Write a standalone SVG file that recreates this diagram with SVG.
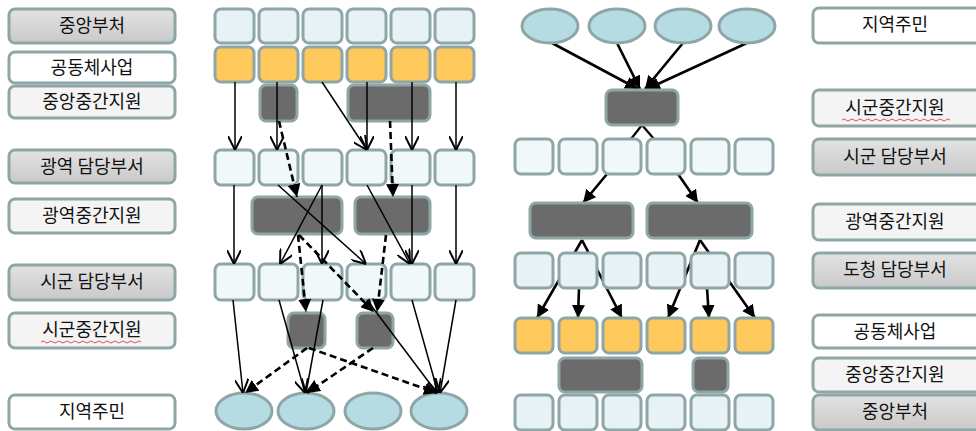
<svg xmlns="http://www.w3.org/2000/svg" width="976" height="431" viewBox="0 0 976 431">
<defs>
<linearGradient id="gGray" x1="0" y1="0" x2="0" y2="1"><stop offset="0" stop-color="#e3e3e3"/><stop offset="1" stop-color="#c9c9c9"/></linearGradient>
<marker id="vOpen" viewBox="0 0 10 10" refX="10" refY="5" markerWidth="14" markerHeight="14" markerUnits="userSpaceOnUse" orient="auto"><path d="M0,0 L10,5 L0,10" fill="none" stroke="#000" stroke-width="1.4"/></marker>
<marker id="vFill" viewBox="0 0 10 10" refX="10" refY="5" markerWidth="13" markerHeight="13" markerUnits="userSpaceOnUse" orient="auto"><path d="M0,0 L10,5 L0,10 z" fill="#000"/></marker>
</defs>
<style>
.lbl rect{stroke:#8ea6a6;stroke-width:3}
.g rect{fill:url(#gGray)}
.l rect{fill:#f4f4f4}
.w rect{fill:#ffffff}
.lbl text{font-family:"Noto Sans CJK KR","Noto Sans",sans-serif;font-size:18px;text-anchor:middle;fill:#111}
.bx{stroke:#8ea6a6;stroke-width:3}
.lb{fill:#e6f2f5}
.vl{fill:#f1f8fa}
.or{fill:#ffc95c}
.dk{fill:#6b6b6b}
.el{fill:#b5dce2;stroke:#8ea6a6;stroke-width:3}
.thin{stroke:#000;stroke-width:1.5;fill:none;marker-end:url(#vOpen)}
.dash{stroke:#000;stroke-width:2.6;fill:none;stroke-dasharray:7 4;marker-end:url(#vFill)}
.thick{stroke:#000;stroke-width:2.6;fill:none;marker-end:url(#vFill)}
.plain{stroke:#000;stroke-width:2.2;fill:none}
.sq{stroke:#e05050;stroke-width:1;fill:none}
</style>

<g id="left-labels">
<g id="L1" class="lbl g"><rect x="9" y="9" width="166" height="34" rx="6"/><text x="92" y="32">중앙부처</text></g>
<g id="L2" class="lbl w"><rect x="9" y="52" width="166" height="31" rx="6"/><text x="92" y="74">공동체사업</text></g>
<g id="L3" class="lbl l"><rect x="9" y="86" width="166" height="32" rx="6"/><text x="92" y="108">중앙중간지원</text></g>
<g id="L4" class="lbl g"><rect x="9" y="150" width="166" height="33" rx="6"/><text x="92" y="173">광역 담당부서</text></g>
<g id="L5" class="lbl l"><rect x="9" y="199" width="166" height="34" rx="6"/><text x="92" y="222">광역중간지원</text></g>
<g id="L6" class="lbl g"><rect x="9" y="265" width="166" height="35" rx="6"/><text x="92" y="288">시군 담당부서</text></g>
<g id="L7" class="lbl l"><rect x="9" y="313" width="166" height="35" rx="6"/><text x="92" y="336">시군중간지원</text><path class="sq" d="M41,342 q2,-2 4,0 t4,0 t4,0 t4,0 t4,0 t4,0 t4,0 t4,0 t4,0 t4,0 t4,0 t4,0 t4,0 t4,0 t4,0 t4,0 t4,0 t4,0 t4,0 t4,0 t4,0 t4,0 t4,0 t4,0 t4,0"/></g>
<g id="L8" class="lbl w"><rect x="9" y="395" width="166" height="34" rx="6"/><text x="92" y="418">지역주민</text></g>
</g>

<g id="right-labels">
<g id="R1" class="lbl w"><rect x="813" y="8" width="172" height="35" rx="6"/><text x="895" y="31">지역주민</text></g>
<g id="R2" class="lbl l"><rect x="813" y="90" width="172" height="36" rx="6"/><text x="895" y="114">시군중간지원</text><path class="sq" d="M842,120 q2,-2 4,0 t4,0 t4,0 t4,0 t4,0 t4,0 t4,0 t4,0 t4,0 t4,0 t4,0 t4,0 t4,0 t4,0 t4,0 t4,0 t4,0 t4,0 t4,0 t4,0 t4,0 t4,0 t4,0 t4,0 t4,0 t4,0 t4,0"/></g>
<g id="R3" class="lbl g"><rect x="813" y="139" width="172" height="36" rx="6"/><text x="895" y="163">시군 담당부서</text></g>
<g id="R4" class="lbl l"><rect x="813" y="204" width="172" height="36" rx="6"/><text x="895" y="228">광역중간지원</text></g>
<g id="R5" class="lbl g"><rect x="813" y="253" width="172" height="35" rx="6"/><text x="895" y="276">도청 담당부서</text></g>
<g id="R6" class="lbl w"><rect x="813" y="315" width="172" height="33" rx="6"/><text x="895" y="338">공동체사업</text></g>
<g id="R7" class="lbl l"><rect x="813" y="358" width="172" height="34" rx="6"/><text x="895" y="381">중앙중간지원</text></g>
<g id="R8" class="lbl g"><rect x="813" y="395" width="172" height="35" rx="6"/><text x="895" y="418">중앙부처</text></g>
</g>

<g id="left-nodes">
<g id="l-central"><rect class="bx lb" x="215" y="9" width="39" height="34" rx="6"/><rect class="bx lb" x="259" y="9" width="39" height="34" rx="6"/><rect class="bx lb" x="303" y="9" width="39" height="34" rx="6"/><rect class="bx lb" x="347" y="9" width="39" height="34" rx="6"/><rect class="bx lb" x="391" y="9" width="39" height="34" rx="6"/><rect class="bx lb" x="435" y="9" width="39" height="34" rx="6"/></g>
<g id="l-projects"><rect class="bx or" x="215" y="47" width="39" height="35" rx="6"/><rect class="bx or" x="259" y="47" width="39" height="35" rx="6"/><rect class="bx or" x="303" y="47" width="39" height="35" rx="6"/><rect class="bx or" x="347" y="47" width="39" height="35" rx="6"/><rect class="bx or" x="391" y="47" width="39" height="35" rx="6"/><rect class="bx or" x="435" y="47" width="39" height="35" rx="6"/></g>
<g id="l-central-support"><rect class="bx dk" x="260" y="85" width="37" height="36" rx="6"/><rect class="bx dk" x="348" y="85" width="82" height="36" rx="6"/></g>
<g id="l-metro-dept"><rect class="bx vl" x="215" y="150" width="39" height="35" rx="6"/><rect class="bx vl" x="259" y="150" width="39" height="35" rx="6"/><rect class="bx vl" x="303" y="150" width="39" height="35" rx="6"/><rect class="bx vl" x="347" y="150" width="39" height="35" rx="6"/><rect class="bx vl" x="391" y="150" width="39" height="35" rx="6"/><rect class="bx vl" x="435" y="150" width="39" height="35" rx="6"/></g>
<g id="l-metro-support"><rect class="bx dk" x="252" y="197" width="90" height="37" rx="6"/><rect class="bx dk" x="355" y="197" width="75" height="37" rx="6"/></g>
<g id="l-city-dept"><rect class="bx vl" x="215" y="264" width="39" height="36" rx="6"/><rect class="bx vl" x="259" y="264" width="39" height="36" rx="6"/><rect class="bx vl" x="303" y="264" width="39" height="36" rx="6"/><rect class="bx vl" x="347" y="264" width="39" height="36" rx="6"/><rect class="bx vl" x="391" y="264" width="39" height="36" rx="6"/><rect class="bx vl" x="435" y="264" width="39" height="36" rx="6"/></g>
<g id="l-city-support"><rect class="bx dk" x="288" y="313" width="37" height="35" rx="6"/><rect class="bx dk" x="357" y="313" width="36" height="35" rx="6"/></g>
<g id="l-residents"><ellipse class="el" cx="244" cy="411" rx="28" ry="18"/><ellipse class="el" cx="306" cy="411" rx="28" ry="18"/><ellipse class="el" cx="373" cy="411" rx="28" ry="18"/><ellipse class="el" cx="439" cy="411" rx="28" ry="18"/></g>
</g>

<g id="connectors">
<path class="thin" d="M235,82 L235,150"/>
<path class="thin" d="M277,82 L277,150"/>
<path class="thin" d="M322,82 L367,150"/>
<path class="thin" d="M367,82 L367,150"/>
<path class="thin" d="M412,82 L412,150"/>
<path class="thin" d="M456,82 L456,150"/>
<path class="dash" d="M279,121 L297,197"/>
<path class="dash" d="M390,121 L393,197"/>
<path class="thin" d="M234,185 L234,264"/>
<path class="thin" d="M278,185 L366,264"/>
<path class="thin" d="M322,185 L280,264"/>
<path class="thin" d="M322,185 L322,264"/>
<path class="thin" d="M367,185 L410,264"/>
<path class="thin" d="M412,185 L412,264"/>
<path class="thin" d="M456,185 L456,264"/>
<path class="dash" d="M298,235 L306,312"/>
<path class="dash" d="M299,235 L374,312"/>
<path class="dash" d="M386,235 L377,312"/>
<path class="thin" d="M233,300 L243,393"/>
<path class="thin" d="M279,300 L305,393"/>
<path class="thin" d="M323,300 L306,393"/>
<path class="thin" d="M367,300 L437,393"/>
<path class="thin" d="M412,300 L438,393"/>
<path class="thin" d="M456,300 L440,393"/>
<path class="dash" d="M307,348 L245,393"/>
<path class="dash" d="M309,348 L437,393"/>
<path class="dash" d="M373,348 L307,393"/>
<path class="thick" d="M552,43 L638,89"/>
<path class="thick" d="M617,43 L640,89"/>
<path class="thick" d="M683,43 L645,89"/>
<path class="thick" d="M747,43 L647,89"/>
<path class="plain" d="M642,125 L631,139"/>
<path class="plain" d="M642,125 L654,139"/>
<path class="thick" d="M607,174 L583,203"/>
<path class="thick" d="M678,174 L698,203"/>
<path class="thick" d="M582,240 L537,318"/>
<path class="thick" d="M582,240 L622,318"/>
<path class="thick" d="M579,288 L578,318"/>
<path class="thick" d="M700,240 L668,318"/>
<path class="thick" d="M700,240 L755,318"/>
<path class="thick" d="M707,288 L709,318"/>
</g>

<g id="right-nodes">
<g id="r-residents"><ellipse class="el" cx="550" cy="26" rx="28" ry="17"/><ellipse class="el" cx="617" cy="26" rx="28" ry="17"/><ellipse class="el" cx="683" cy="26" rx="28" ry="17"/><ellipse class="el" cx="747" cy="26" rx="28" ry="17"/></g>
<g id="r-city-support"><rect class="bx dk" x="606" y="90" width="72" height="35" rx="6"/></g>
<g id="r-city-dept"><rect class="bx vl" x="515" y="139" width="38" height="35" rx="6"/><rect class="bx vl" x="559" y="139" width="38" height="35" rx="6"/><rect class="bx vl" x="603" y="139" width="38" height="35" rx="6"/><rect class="bx vl" x="647" y="139" width="38" height="35" rx="6"/><rect class="bx vl" x="691" y="139" width="38" height="35" rx="6"/><rect class="bx vl" x="735" y="139" width="38" height="35" rx="6"/></g>
<g id="r-metro-support"><rect class="bx dk" x="530" y="203" width="103" height="35" rx="6"/><rect class="bx dk" x="647" y="203" width="105" height="35" rx="6"/></g>
<g id="r-province-dept"><rect class="bx lb" x="515" y="253" width="38" height="35" rx="6"/><rect class="bx lb" x="559" y="253" width="38" height="35" rx="6"/><rect class="bx lb" x="603" y="253" width="38" height="35" rx="6"/><rect class="bx lb" x="647" y="253" width="38" height="35" rx="6"/><rect class="bx lb" x="691" y="253" width="38" height="35" rx="6"/><rect class="bx lb" x="735" y="253" width="38" height="35" rx="6"/></g>
<g id="r-projects"><rect class="bx or" x="515" y="318" width="38" height="35" rx="6"/><rect class="bx or" x="559" y="318" width="38" height="35" rx="6"/><rect class="bx or" x="603" y="318" width="38" height="35" rx="6"/><rect class="bx or" x="647" y="318" width="38" height="35" rx="6"/><rect class="bx or" x="691" y="318" width="38" height="35" rx="6"/><rect class="bx or" x="735" y="318" width="38" height="35" rx="6"/></g>
<g id="r-central-support"><rect class="bx dk" x="559" y="358" width="83" height="34" rx="6"/><rect class="bx dk" x="693" y="358" width="35" height="34" rx="6"/></g>
<g id="r-central"><rect class="bx lb" x="515" y="395" width="38" height="35" rx="6"/><rect class="bx lb" x="559" y="395" width="38" height="35" rx="6"/><rect class="bx lb" x="603" y="395" width="38" height="35" rx="6"/><rect class="bx lb" x="647" y="395" width="38" height="35" rx="6"/><rect class="bx lb" x="691" y="395" width="38" height="35" rx="6"/><rect class="bx lb" x="735" y="395" width="38" height="35" rx="6"/></g>
</g>
</svg>
